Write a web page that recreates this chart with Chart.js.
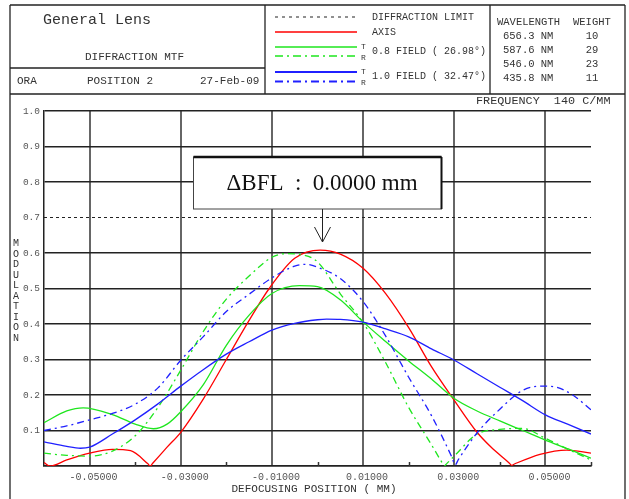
<!DOCTYPE html>
<html>
<head>
<meta charset="utf-8">
<script src="https://cdn.jsdelivr.net/npm/chart.js@4"></script>
<style>
  body { margin: 0; width: 629px; height: 499px; overflow: hidden; background: #fff; }
  #mtf { position: absolute; left: 0; top: 0; }
  #frame { position: absolute; left: 0; top: 0; pointer-events: none; }
  #frame text { font-family: "Liberation Mono", monospace; fill: #333; }
</style>
</head>
<body>
<canvas id="mtf" width="629" height="499"></canvas>
<svg id="frame" width="629" height="499">
  <!-- outer frame and header boxes -->
  <g stroke="#222" stroke-width="1.3" fill="none">
    <line x1="10" y1="5" x2="625" y2="5"/>
    <line x1="10" y1="5" x2="10" y2="499"/>
    <line x1="625" y1="5" x2="625" y2="499"/>
    <line x1="10" y1="94" x2="625" y2="94"/>
    <line x1="10" y1="68" x2="265" y2="68"/>
    <line x1="265" y1="5" x2="265" y2="94"/>
    <line x1="490" y1="5" x2="490" y2="94"/>
  </g>
  <!-- legend samples -->
  <line x1="275" y1="17" x2="357" y2="17" stroke="#222" stroke-width="1.2" stroke-dasharray="3,4"/>
  <line x1="275" y1="32" x2="357" y2="32" stroke="#ff0000" stroke-width="1.3"/>
  <line x1="275" y1="47" x2="357" y2="47" stroke="#1ee61e" stroke-width="1.5"/>
  <line x1="275" y1="56" x2="357" y2="56" stroke="#1ee61e" stroke-width="1.5" stroke-dasharray="8,4,2,4"/>
  <line x1="275" y1="72" x2="357" y2="72" stroke="#2020ff" stroke-width="1.8"/>
  <line x1="275" y1="81.5" x2="357" y2="81.5" stroke="#2020ff" stroke-width="1.8" stroke-dasharray="8,4,2,4"/>
  <g dominant-baseline="central">
    <text x="43" y="20" font-size="15">General Lens</text>
    <text x="85" y="57" font-size="11">DIFFRACTION MTF</text>
    <text x="17" y="81" font-size="11">ORA</text>
    <text x="87" y="81" font-size="11">POSITION 2</text>
    <text x="200" y="81" font-size="11">27-Feb-09</text>

    <text x="372" y="17" font-size="10">DIFFRACTION LIMIT</text>
    <text x="372" y="32" font-size="10">AXIS</text>
    <text x="361" y="46" font-size="8">T</text>
    <text x="361" y="57" font-size="8">R</text>
    <text x="372" y="51" font-size="10">0.8 FIELD ( 26.98°)</text>
    <text x="361" y="71" font-size="8">T</text>
    <text x="361" y="82" font-size="8">R</text>
    <text x="372" y="76" font-size="10">1.0 FIELD ( 32.47°)</text>

    <text x="497" y="22" font-size="10.5">WAVELENGTH</text>
    <text x="573" y="22" font-size="10.5">WEIGHT</text>
    <text x="503" y="36" font-size="10.5">656.3 NM</text>
    <text x="503" y="50" font-size="10.5">587.6 NM</text>
    <text x="503" y="64" font-size="10.5">546.0 NM</text>
    <text x="503" y="78" font-size="10.5">435.8 NM</text>
    <text x="592" y="36" font-size="10.5" text-anchor="middle">10</text>
    <text x="592" y="50" font-size="10.5" text-anchor="middle">29</text>
    <text x="592" y="64" font-size="10.5" text-anchor="middle">23</text>
    <text x="592" y="78" font-size="10.5" text-anchor="middle">11</text>

    <text x="476" y="101" font-size="11.8" xml:space="preserve">FREQUENCY  140 C/MM</text>
    <text x="314" y="489" font-size="11" text-anchor="middle">DEFOCUSING POSITION ( MM)</text>
    <text id="ytitle" font-size="10" text-anchor="middle"></text>
  </g>
</svg>
<script>
// defocus positions (mm) and modulation for each curve
const diffX = [-0.06, 0.06];
const diffY = [0.7, 0.7];

const axisX = [-0.06, -0.0587, -0.055, -0.05, -0.045, -0.041, -0.0372, -0.0367, -0.0362, -0.033, -0.03, -0.025, -0.02, -0.015, -0.0106, -0.005, 0.0006, 0.005, 0.01, 0.015, 0.02, 0.025, 0.03, 0.035, 0.038, 0.0421, 0.0426, 0.0431, 0.0488, 0.0547, 0.06];
const axisY = [0.010, 0.0, 0.017, 0.036, 0.047, 0.043, 0.006, 0.0, 0.007, 0.053, 0.095, 0.19, 0.30, 0.41, 0.50, 0.585, 0.608, 0.597, 0.557, 0.485, 0.39, 0.28, 0.185, 0.095, 0.054, 0.008, 0.002, 0.005, 0.033, 0.045, 0.036];

const f08tX = [-0.06, -0.055, -0.0514, -0.045, -0.04, -0.036, -0.033, -0.03, -0.025, -0.02, -0.015, -0.01, -0.004, 0.0, 0.005, 0.01, 0.015, 0.02, 0.025, 0.03, 0.035, 0.04, 0.045, 0.05, 0.055, 0.06];
const f08tY = [0.122, 0.155, 0.164, 0.145, 0.118, 0.105, 0.118, 0.153, 0.23, 0.34, 0.425, 0.486, 0.508, 0.505, 0.468, 0.406, 0.35, 0.296, 0.245, 0.19, 0.155, 0.127, 0.10, 0.073, 0.048, 0.022];

const f08rX = [-0.06, -0.055, -0.05, -0.045, -0.04, -0.035, -0.03, -0.025, -0.02, -0.015, -0.01, -0.007, -0.003, 0.0, 0.005, 0.01, 0.015, 0.02, 0.025, 0.0273, 0.0278, 0.0283, 0.03, 0.035, 0.04, 0.045, 0.05, 0.055, 0.06];
const f08rY = [0.036, 0.03, 0.028, 0.042, 0.085, 0.165, 0.27, 0.38, 0.47, 0.535, 0.588, 0.598, 0.594, 0.575, 0.485, 0.404, 0.29, 0.165, 0.06, 0.01, 0.0, 0.006, 0.028, 0.09, 0.103, 0.106, 0.078, 0.047, 0.017];

const f10tX = [-0.06, -0.055, -0.052, -0.05, -0.045, -0.04, -0.035, -0.03, -0.025, -0.02, -0.015, -0.01, -0.005, 0.0, 0.002, 0.005, 0.01, 0.015, 0.02, 0.025, 0.03, 0.035, 0.04, 0.045, 0.05, 0.055, 0.06];
const f10tY = [0.068, 0.055, 0.05, 0.053, 0.09, 0.13, 0.175, 0.225, 0.272, 0.315, 0.35, 0.383, 0.402, 0.412, 0.414, 0.413, 0.405, 0.386, 0.364, 0.33, 0.298, 0.26, 0.222, 0.184, 0.144, 0.117, 0.09];

const f10rX = [-0.06, -0.055, -0.05, -0.045, -0.04, -0.035, -0.03, -0.025, -0.02, -0.015, -0.01, -0.005, -0.0024, 0.0, 0.005, 0.01, 0.015, 0.02, 0.025, 0.0295, 0.0302, 0.0309, 0.035, 0.04, 0.045, 0.049, 0.052, 0.056, 0.06];
const f10rY = [0.1, 0.113, 0.13, 0.148, 0.174, 0.22, 0.298, 0.365, 0.435, 0.484, 0.53, 0.563, 0.568, 0.56, 0.528, 0.463, 0.365, 0.25, 0.142, 0.024, 0.003, 0.018, 0.093, 0.16, 0.213, 0.225, 0.223, 0.2, 0.158];

const bflValue = 0.0;   // ΔBFL position marked by the arrow
const bflText = 'ΔBFL  :  0.0000 mm';

const RED = '#ff0000', GREEN = '#1ee61e', BLUE = '#2020ff';
const DASHDOT = [7, 4, 2, 4];

function pts(xs, ys) {
    return xs.map((x, i) => ({ x: x, y: ys[i] }));
}

function isOddStep(v) {
    return Math.abs(Math.round(v * 100)) % 2 === 1;
}

// stacked vertical title
const yt = document.getElementById('ytitle');
'MODULATION'.split('').forEach((ch, i) => {
    const s = document.createElementNS('http://www.w3.org/2000/svg', 'tspan');
    s.setAttribute('x', 16);
    s.setAttribute('y', 243 + i * 10.5);
    s.textContent = ch;
    yt.appendChild(s);
});

const bflBox = {
    id: 'bflBox',
    afterDraw(chart) {
        const c = chart.ctx;
        const xs = chart.scales.x;
        const area = chart.chartArea;
        const x0 = xs.getPixelForValue(bflValue);

        // small inner ticks at the even steps
        c.save();
        c.strokeStyle = '#333';
        c.lineWidth = 1.5;
        xs.ticks.forEach(t => {
            if (!isOddStep(t.value) && t.value > xs.min + 1e-9) {
                const px = Math.round(xs.getPixelForValue(t.value)) + 0.5;
                c.beginPath();
                c.moveTo(px, area.bottom);
                c.lineTo(px, area.bottom - 4);
                c.stroke();
            }
        });

        // ΔBFL box
        const left = Math.round(x0 - 125) + 0.5, top = area.top + 46, w = 248, h = 52;
        c.fillStyle = '#fff';
        c.fillRect(left, top, w, h);
        c.strokeStyle = '#444';
        c.lineWidth = 1;
        c.strokeRect(left, top, w, h);
        c.strokeStyle = '#111';
        c.lineWidth = 2.5;
        c.beginPath();
        c.moveTo(left, top);
        c.lineTo(left + w, top);
        c.stroke();
        c.lineWidth = 2;
        c.beginPath();
        c.moveTo(left + w, top);
        c.lineTo(left + w, top + h);
        c.stroke();

        c.fillStyle = '#111';
        c.font = '23px "Liberation Serif", serif';
        c.textAlign = 'left';
        c.textBaseline = 'middle';
        c.fillText(bflText, left + 33, top + h / 2 + 1);

        // arrow
        const ax = Math.round(x0 + 4) + 0.5;
        c.strokeStyle = '#222';
        c.lineWidth = 1;
        c.beginPath();
        c.moveTo(ax, top + h);
        c.lineTo(ax, top + h + 33);
        c.moveTo(ax - 8, top + h + 18);
        c.lineTo(ax, top + h + 33);
        c.lineTo(ax + 8, top + h + 18);
        c.stroke();
        c.restore();
    }
};

const tickFont = { family: '"Liberation Mono", monospace', size: 10 };

new Chart(document.getElementById('mtf').getContext('2d'), {
    type: 'line',
    data: {
        datasets: [
            { data: pts(diffX, diffY), borderColor: '#222', borderWidth: 1.2, borderDash: [3, 3] },
            { data: pts(f10rX, f10rY), borderColor: BLUE, borderDash: DASHDOT },
            { data: pts(f10tX, f10tY), borderColor: BLUE },
            { data: pts(f08rX, f08rY), borderColor: GREEN, borderDash: DASHDOT },
            { data: pts(f08tX, f08tY), borderColor: GREEN },
            { data: pts(axisX, axisY), borderColor: RED }
        ]
    },
    options: {
        responsive: false,
        animation: false,
        devicePixelRatio: 1,
        layout: { padding: { top: 111, right: 38, left: 0, bottom: 0 } },
        plugins: { legend: { display: false }, tooltip: { enabled: false } },
        elements: {
            point: { radius: 0 },
            line: { borderWidth: 1.3, cubicInterpolationMode: 'monotone', fill: false }
        },
        scales: {
            x: {
                type: 'linear',
                min: -0.06,
                max: 0.06,
                afterFit: s => { s.height = 33; },
                ticks: {
                    stepSize: 0.01,
                    autoSkip: false,
                    maxRotation: 0,
                    labelOffset: 4,
                    padding: 5,
                    color: '#555',
                    font: tickFont,
                    callback: v => isOddStep(v) ? v.toFixed(5) : ''
                },
                grid: {
                    drawTicks: false,
                    lineWidth: 2,
                    color: c => isOddStep(c.tick.value) ? '#666' : 'rgba(0,0,0,0)'
                },
                border: { color: '#222', width: 1.5 }
            },
            y: {
                min: 0,
                max: 1,
                afterFit: s => { s.width = 44; },
                ticks: {
                    stepSize: 0.1,
                    padding: 4,
                    color: '#555',
                    font: { family: '"Liberation Mono", monospace', size: 9.5 },
                    callback: v => v < 0.05 ? '' : v.toFixed(1)
                },
                grid: {
                    drawTicks: false,
                    lineWidth: 1.5,
                    color: c => Math.abs(c.tick.value - 0.7) < 1e-6 ? 'rgba(0,0,0,0)' : '#222'
                },
                border: { color: '#222', width: 1.5 }
            }
        }
    },
    plugins: [bflBox]
});
</script>
</body>
</html>
